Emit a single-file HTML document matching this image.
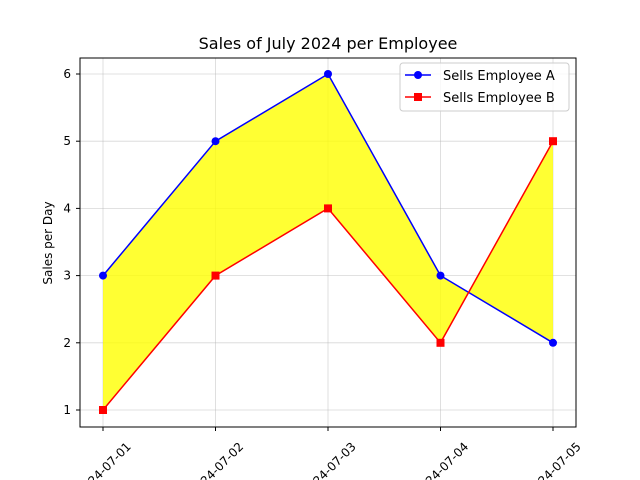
<!DOCTYPE html>
<html><head><meta charset="utf-8"><style>body{margin:0;background:#fff}svg{display:block;font-family:"DejaVu Sans","Liberation Sans",sans-serif}</style></head>
<body>
<svg id="chart" width="640" height="480" xmlns="http://www.w3.org/2000/svg">
<text x="328" y="49" text-anchor="middle" font-size="16">Sales of July 2024 per Employee</text>
<text x="0" y="0" transform="translate(52,243) rotate(-90)" text-anchor="middle" font-size="12">Sales per Day</text>
<g id="grid"></g><g id="fill"></g><g id="series"></g><g id="ticks"></g>
<rect x="80" y="58" width="496" height="369" fill="none" stroke="#000" stroke-width="1"/>
<g>
<rect x="400" y="63" width="169" height="48" rx="3" fill="#fff" fill-opacity="0.8" stroke="#ccc"/>
<g><line x1="405" y1="75" x2="431" y2="75" stroke="blue" stroke-width="1.5"/><circle cx="418" cy="75" r="4" fill="blue"/><text x="443" y="80" font-size="13">Sells Employee A</text></g>
<g><line x1="405" y1="97" x2="431" y2="97" stroke="red" stroke-width="1.5"/><rect x="414" y="93" width="8" height="8" fill="red"/><text x="443" y="102" font-size="13">Sells Employee B</text></g>
</g>
</svg>
<script>
const categories=["2024-07-01","2024-07-02","2024-07-03","2024-07-04","2024-07-05"];
const seriesA=[3,5,6,3,2];
const seriesB=[1,3,4,2,5];
const yTicks=[1,2,3,4,5,6];
const NS="http://www.w3.org/2000/svg";
const xS=i=>103+i*(553-103)/(categories.length-1);
const yS=v=>410-(v-1)*(410-74)/5;
function mk(t,a,p){const e=document.createElementNS(NS,t);for(const k in a)e.setAttribute(k,a[k]);p.appendChild(e);return e;}
const grid=document.getElementById('grid'),ticks=document.getElementById('ticks'),fill=document.getElementById('fill'),ser=document.getElementById('series');
yTicks.forEach(v=>{const y=yS(v);
const g=mk('line',{x1:80,x2:576,y1:y,y2:y,stroke:'#b0b0b0','stroke-opacity':0.5,'stroke-width':0.8},grid);

mk('line',{x1:76,x2:80,y1:y,y2:y,stroke:'#000'},ticks);
const t=mk('text',{x:71,y:y+4,'text-anchor':'end','font-size':12},ticks);t.textContent=v;
});
categories.forEach((c,i)=>{const x=xS(i);
const g=mk('line',{x1:x,x2:x,y1:58,y2:427,stroke:'#b0b0b0','stroke-opacity':0.5,'stroke-width':0.8},grid);

mk('line',{x1:x,x2:x,y1:427,y2:431,stroke:'#000'},ticks);
const t=mk('text',{x:0,y:0,transform:`translate(${x+4},472) rotate(-45)`,'text-anchor':'middle','font-size':12},ticks);t.textContent=c;
});
let pts=categories.map((c,i)=>xS(i)+','+yS(seriesA[i]));
pts=pts.concat(categories.map((c,i)=>xS(i)+','+yS(seriesB[i])).reverse());
const f=mk('polygon',{points:pts.join(' '),fill:'yellow','fill-opacity':0.8},fill);

const la=mk('polyline',{points:categories.map((c,i)=>xS(i)+','+yS(seriesA[i])).join(' '),fill:'none',stroke:'blue','stroke-width':1.5},ser);

const lb=mk('polyline',{points:categories.map((c,i)=>xS(i)+','+yS(seriesB[i])).join(' '),fill:'none',stroke:'red','stroke-width':1.5},ser);

seriesA.forEach((v,i)=>{const m=mk('circle',{cx:xS(i),cy:yS(v),r:4,fill:'blue'},ser);
});
seriesB.forEach((v,i)=>{const m=mk('rect',{x:xS(i)-4,y:yS(v)-4,width:8,height:8,fill:'red'},ser);
});
</script>
</body></html>
